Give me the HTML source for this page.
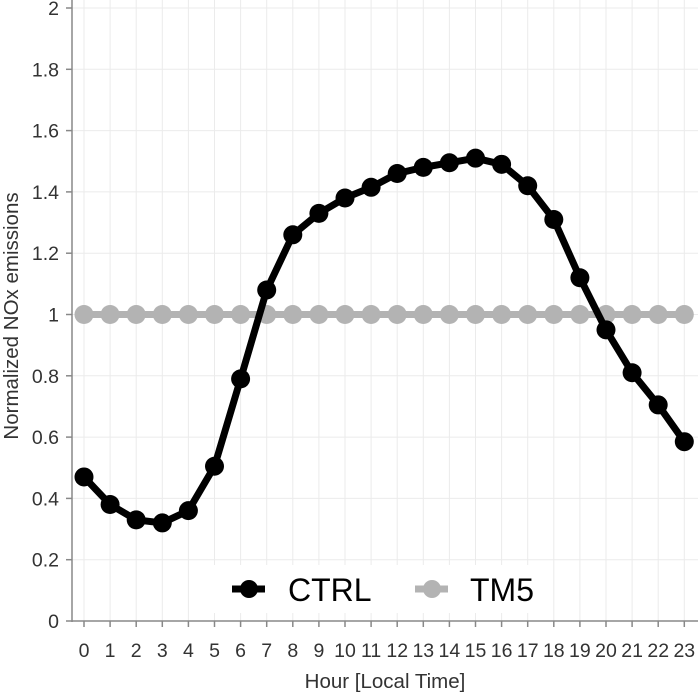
<!DOCTYPE html>
<html><head><style>body{margin:0;background:#fff}</style></head><body>
<svg width="698" height="694" xmlns="http://www.w3.org/2000/svg" font-family="Liberation Sans, sans-serif">
<rect width="698" height="694" fill="#fff"/>
<g stroke="#ebebeb" stroke-width="1">
<line x1="72" x2="698" y1="8" y2="8"/><line x1="72" x2="698" y1="69.3" y2="69.3"/><line x1="72" x2="698" y1="130.6" y2="130.6"/><line x1="72" x2="698" y1="191.9" y2="191.9"/><line x1="72" x2="698" y1="253.2" y2="253.2"/><line x1="72" x2="698" y1="314.5" y2="314.5"/><line x1="72" x2="698" y1="375.8" y2="375.8"/><line x1="72" x2="698" y1="437.1" y2="437.1"/><line x1="72" x2="698" y1="498.4" y2="498.4"/><line x1="72" x2="698" y1="559.7" y2="559.7"/>
</g>
<g id="vg" stroke="#ebebeb"></g>
<line x1="72" x2="72" y1="0" y2="622" stroke="#888" stroke-width="1.5"/>
<line x1="72" x2="698" y1="621" y2="621" stroke="#888" stroke-width="1.5"/>
<g id="yl" font-size="19.5" fill="#333" text-anchor="end"></g>
<g id="xl" font-size="19.5" fill="#333" text-anchor="middle"></g>
<text x="385" y="688" font-size="20.5" fill="#333" text-anchor="middle">Hour [Local Time]</text>
<text transform="translate(18,316) rotate(-90)" font-size="20.5" fill="#333" text-anchor="middle">Normalized NOx emissions</text>
<g id="tm5"></g><g id="ctrl"></g>
<rect x="214" y="565" width="336" height="48" fill="#fff"/>
<line x1="232" x2="265" y1="589" y2="589" stroke="#000" stroke-width="7"/><circle cx="249" cy="589" r="9"/>
<text x="288" y="601" font-size="32">CTRL</text>
<line x1="415" x2="448" y1="589" y2="589" stroke="#b3b3b3" stroke-width="7"/><circle cx="432" cy="589" r="9" fill="#b3b3b3"/>
<text x="470" y="601" font-size="32">TM5</text>
</svg>
<script>
var ns="http://www.w3.org/2000/svg";
function el(p,t,a,txt){var e=document.createElementNS(ns,t);for(var k in a)e.setAttribute(k,a[k]);if(txt!=null)e.textContent=txt;document.getElementById(p).appendChild(e);return e;}
var X=h=>84+h*26.1,Y=v=>621-v*306.5;
for(var h=0;h<24;h++){el('vg','line',{x1:X(h),x2:X(h),y1:0,y2:621});el('xl','line',{x1:X(h),x2:X(h),y1:621,y2:627,stroke:'#888','stroke-width':1.5});el('xl','text',{x:X(h),y:657},h);}
var yl=['0','0.2','0.4','0.6','0.8','1','1.2','1.4','1.6','1.8','2'];
yl.forEach((s,i)=>{el('yl','text',{x:59,y:Y(i*0.2)+7},s);el('yl','line',{x1:66,x2:72,y1:Y(i*0.2),y2:Y(i*0.2),stroke:'#888','stroke-width':1.5});});
var c=[0.47,0.38,0.33,0.32,0.36,0.505,0.79,1.08,1.26,1.33,1.38,1.415,1.46,1.48,1.495,1.51,1.49,1.42,1.31,1.12,0.95,0.81,0.705,0.585];
function ser(id,vals,col){el(id,'polyline',{points:vals.map((v,i)=>X(i)+','+Y(v)).join(' '),fill:'none',stroke:col,'stroke-width':7,'stroke-linejoin':'round'});vals.forEach((v,i)=>el(id,'circle',{cx:X(i),cy:Y(v),r:9.5,fill:col}));}
ser('tm5',c.map(()=>1),'#b3b3b3');ser('ctrl',c,'#000');
</script>
</body></html>
